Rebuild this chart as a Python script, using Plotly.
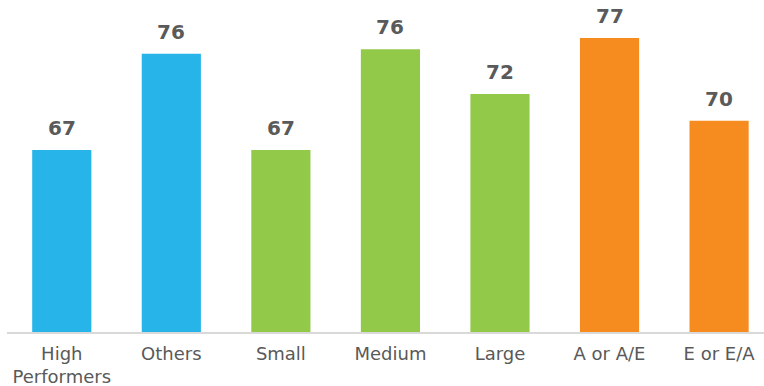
import plotly.graph_objects as go

categories = ["High<br>Performers", "Others", "Small", "Medium", "Large", "A or A/E", "E or E/A"]
values = [67.0, 75.6, 67.0, 76.0, 72.0, 77.0, 69.6]
colors = ["#27B4E8", "#27B4E8", "#93C948", "#93C948", "#93C948", "#F68B20", "#F68B20"]
labels = [f"{v:.0f}" for v in values]
axis_min = 50.75

fig = go.Figure()
fig.add_trace(go.Bar(
    x=categories, y=[v - axis_min for v in values], base=axis_min,
    marker=dict(color=colors, line=dict(width=0)),
    width=0.54, hoverinfo="skip",
))

for c, v, t in zip(categories, values, labels):
    fig.add_annotation(x=c, y=v, text=f"<b>{t}</b>", showarrow=False,
                       yanchor="bottom", yshift=8,
                       font=dict(family="DejaVu Sans", size=20, color="#5A5A5A"))

fig.update_layout(
    width=764, height=386,
    margin=dict(l=7, r=0, t=0, b=54),
    paper_bgcolor="white", plot_bgcolor="white",
    showlegend=False,
    xaxis=dict(range=[-0.5, 6.41], showline=True, linecolor="#D9D9D9", linewidth=2,
               ticks="", ticklabelstandoff=4,
               tickfont=dict(family="DejaVu Sans", size=18, color="#595959"),
               showgrid=False, zeroline=False, fixedrange=True),
    yaxis=dict(range=[axis_min, 80.39], visible=False, showgrid=False, zeroline=False),
)
fig.write_html("out.html")
